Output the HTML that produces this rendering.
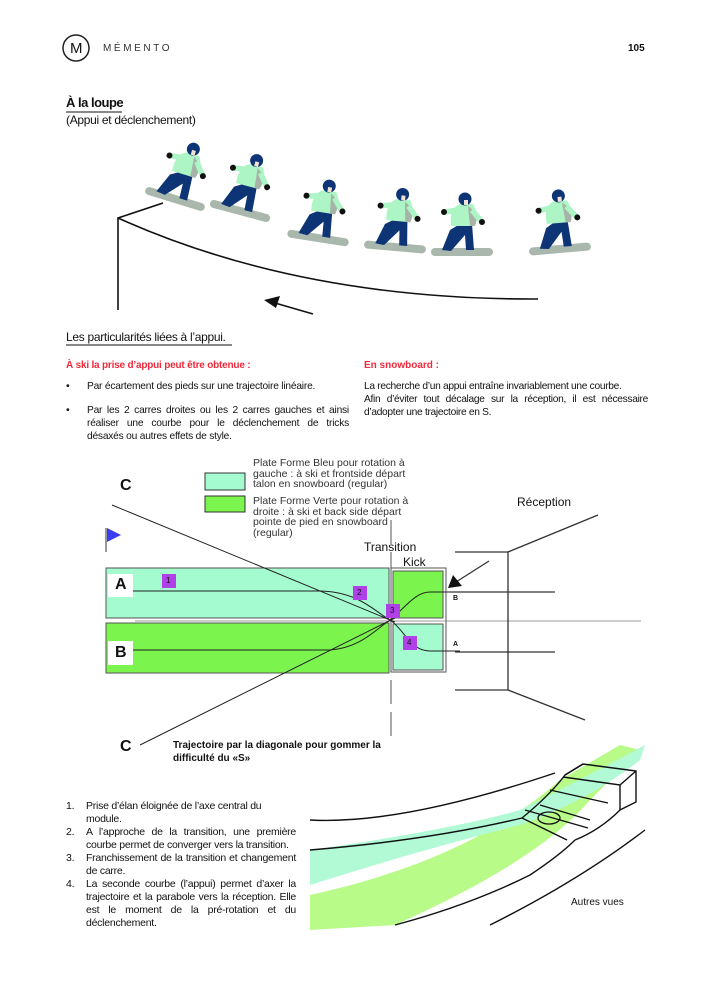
<!DOCTYPE html>
<html><head><meta charset="utf-8"><style>
body{margin:0;background:#fff;}
#p{position:relative;width:712px;height:1000px;overflow:hidden;font-family:"Liberation Sans",sans-serif;color:#111;}
.t{position:absolute;white-space:nowrap;}
.j{position:absolute;font-size:10.2px;line-height:13px;text-align:justify;letter-spacing:-0.2px;}
</style></head><body><div id="p">
<svg width="712" height="1000" style="position:absolute;left:0;top:0">
<defs>
<g id="fig">
<rect x="-31" y="-4" width="62" height="8" rx="4" fill="#a9b7ad"/>
<path d="M-20,-2 L-12,-22 L-2,-28 L10,-28 L12,-2 L4,-2 L3,-17 L-11,-1Z" fill="#0d3474"/>
<path d="M-11,-26 Q-13,-44 -2,-48 L11,-48 Q17,-38 13,-26Z" fill="#aef5c5"/>
<path d="M6,-46 Q18,-38 13,-26 L8,-26Z" fill="#a7b3a8"/>
<path d="M-4,-42 L-17,-40 M10,-42 L19,-31" stroke="#aef5c5" stroke-width="5.5" fill="none"/>
<circle cx="-18" cy="-40" r="3" fill="#111"/><circle cx="20" cy="-30" r="3" fill="#111"/>
<circle cx="3" cy="-53" r="6.5" fill="#0d3474"/>
<rect x="2" y="-52" width="4" height="5" fill="#f2e2d3"/>
</g>
</defs>
<circle cx="76" cy="48" r="13" fill="none" stroke="#222" stroke-width="1.5"/>
<line x1="66" y1="112" x2="122" y2="112" stroke="#111"/>
<line x1="66" y1="345" x2="232" y2="345" stroke="#111"/>
<use href="#fig" transform="translate(175,199) rotate(17)"/>
<use href="#fig" transform="translate(240,211) rotate(15)"/>
<use href="#fig" transform="translate(318,238) rotate(9)"/>
<use href="#fig" transform="translate(395,247) rotate(5)"/>
<use href="#fig" transform="translate(462,252)"/>
<use href="#fig" transform="translate(560,249) rotate(-5)"/>
<g stroke="#111" stroke-width="1.6" fill="none">
<path d="M118,310 L118,218 L163,203"/>
<path d="M118,218 Q300,300 538,299"/>
<line x1="313" y1="314" x2="275" y2="303"/>
</g>
<polygon points="264,300 280,296 276,308" fill="#111"/>
<rect x="205" y="473" width="40" height="17" fill="#a4fbd0" stroke="#333" stroke-width="1"/>
<rect x="205" y="496" width="40" height="16" fill="#7bf44e" stroke="#333" stroke-width="1"/>
<line x1="106" y1="528" x2="106" y2="552" stroke="#555" stroke-width="1.2"/>
<polygon points="107,528 121,535 107,542" fill="#3b3bf0"/>
<rect x="106" y="568" width="283" height="50" fill="#a4fbd0" stroke="#555"/>
<rect x="106" y="623" width="283" height="50" fill="#7bf44e" stroke="#555"/>
<rect x="108" y="574" width="25" height="23" fill="#fff"/>
<rect x="108" y="641" width="25" height="24" fill="#fff"/>
<rect x="391" y="568" width="55" height="104" fill="#fff" stroke="#555"/>
<rect x="393" y="571" width="50" height="47" fill="#7bf44e" stroke="#555"/>
<rect x="393" y="624" width="50" height="46" fill="#a4fbd0" stroke="#555"/>
<line x1="135" y1="621" x2="641" y2="621" stroke="#777" stroke-width="0.8"/>
<line x1="391" y1="520" x2="391" y2="738" stroke="#555" stroke-width="1" stroke-dasharray="24,8"/>
<g stroke="#222" stroke-width="1" fill="none">
<path d="M133,591 L320,591 C360,592 375,612 390,620 C405,630 410,651 430,651 L460,651"/>
<path d="M133,650 L330,650 C360,648 375,630 390,620 C405,608 415,592 430,592 L460,592"/>
<path d="M112,505 L395,622"/>
<path d="M140,745 L395,618"/>
</g>
<g stroke="#333" stroke-width="1.3" fill="none">
<path d="M455,552 L508,552 L508,690 L455,690"/>
<line x1="508" y1="552" x2="598" y2="515"/>
<line x1="508" y1="690" x2="585" y2="720"/>
<line x1="450" y1="592" x2="555" y2="592"/>
<line x1="455" y1="652" x2="555" y2="652"/>
<line x1="489" y1="561" x2="456" y2="582"/>
</g>
<polygon points="448,588 453,575 462,586" fill="#111"/>
<g fill="#b041e8"><rect x="162" y="574" width="14" height="14"/><rect x="353" y="586" width="14" height="14"/><rect x="386" y="604" width="14" height="14"/><rect x="403" y="636" width="14" height="14"/></g>
<path d="M310,895 Q470,860 560,780 L620,745 L640,750 L590,800 Q540,860 395,925 L310,930Z" fill="#b8fb88"/>
<path d="M310,850 Q450,830 520,810 Q580,780 645,745 L640,760 Q590,800 520,825 Q420,850 310,885Z" fill="#b2f9d6"/>
<g stroke="#111" stroke-width="1.4" fill="none">
<path d="M310,820 Q400,825 555,773"/>
<path d="M310,850 Q430,840 522,818 Q550,795 565,775 L583,764 L636,771 L636,802 L620,810 Q600,830 575,840"/>
<path d="M565,775 L583,764 M563,777 L620,785 L636,771 M620,785 L620,810"/>
<path d="M395,925 Q470,905 530,875 Q560,855 575,840"/>
<path d="M490,925 Q580,880 645,830"/>
<path d="M550,790 L608,803 M540,805 L590,820 M522,818 L567,840 M525,810 L588,828"/>
</g>
<ellipse cx="549" cy="818" rx="11" ry="6" fill="none" stroke="#111" stroke-width="1.3"/>
</svg>
<div class="t" style="left:70px;top:40px;font-size:15px">M</div>
<div class="t" style="left:103px;top:43px;font-size:10px;letter-spacing:2.6px;color:#333">MÉMENTO</div>
<div class="t" style="left:628px;top:43px;font-size:10px;font-weight:bold">105</div>
<div class="t" style="left:66px;top:95px;font-size:13px;font-weight:bold;letter-spacing:-0.5px">À la loupe</div>
<div class="t" style="left:66px;top:113px;font-size:12px;letter-spacing:-0.3px">(Appui et déclenchement)</div>
<div class="t" style="left:66px;top:330px;font-size:12px;letter-spacing:-0.3px">Les particularités liées à l’appui.</div>
<div class="t" style="left:66px;top:360px;font-size:10px;font-weight:bold;color:#ee2a3c;letter-spacing:-0.2px">À ski la prise d’appui peut être obtenue :</div>
<div class="t" style="left:364px;top:360px;font-size:10px;font-weight:bold;color:#ee2a3c">En snowboard :</div>
<div class="t" style="left:66px;top:380px;font-size:10.5px">•</div>
<div class="j" style="left:87px;top:380px;width:262px">Par écartement des pieds sur une trajectoire linéaire.</div>
<div class="t" style="left:66px;top:404px;font-size:10.5px">•</div>
<div class="j" style="left:87px;top:404px;width:262px">Par les 2 carres droites ou les 2 carres gauches et ainsi réaliser une courbe pour le déclenchement de tricks désaxés ou autres effets de style.</div>
<div class="j" style="left:364px;top:380px;width:284px;letter-spacing:-0.3px">La recherche d’un appui entraîne invariablement une courbe.<br>Afin d’éviter tout décalage sur la réception, il est nécessaire d’adopter une trajectoire en S.</div>
<div class="t" style="left:253px;top:458px;font-size:10.5px;line-height:10.7px;color:#333">Plate Forme Bleu pour rotation à<br>gauche : à ski et frontside départ<br>talon en snowboard (regular)</div>
<div class="t" style="left:253px;top:496px;font-size:10.5px;line-height:10.7px;color:#333">Plate Forme Verte pour rotation à<br>droite : à ski et back side départ<br>pointe de pied en snowboard<br>(regular)</div>
<div class="t" style="left:120px;top:477px;font-size:16px;font-weight:bold">C</div>
<div class="t" style="left:120px;top:738px;font-size:16px;font-weight:bold">C</div>
<div class="t" style="left:115px;top:576px;font-size:16px;font-weight:bold">A</div>
<div class="t" style="left:115px;top:644px;font-size:16px;font-weight:bold">B</div>
<div class="t" style="left:364px;top:540px;font-size:12px">Transition</div>
<div class="t" style="left:403px;top:555px;font-size:12px">Kick</div>
<div class="t" style="left:517px;top:495px;font-size:12px">Réception</div>
<div class="t" style="left:453px;top:595px;font-size:7px;font-weight:bold">B</div>
<div class="t" style="left:453px;top:641px;font-size:7px;font-weight:bold">A</div>
<div class="t" style="left:166px;top:576px;font-size:8px">1</div>
<div class="t" style="left:357px;top:588px;font-size:8px">2</div>
<div class="t" style="left:390px;top:606px;font-size:8px">3</div>
<div class="t" style="left:407px;top:638px;font-size:8px">4</div>
<div class="t" style="left:173px;top:740px;font-size:10px;font-weight:bold;line-height:12.5px">Trajectoire par la diagonale pour gommer la<br>difficulté du «S»</div>
<div class="t" style="left:571px;top:897px;font-size:10px">Autres vues</div>
<div style="position:absolute;left:66px;top:800px;width:230px;font-size:10.5px;line-height:13px;letter-spacing:-0.25px">
<div style="position:relative;padding-left:20px;text-align:justify"><span style="position:absolute;left:0">1.</span>Prise d’élan éloignée de l’axe central du<br>module.</div>
<div style="position:relative;padding-left:20px;text-align:justify"><span style="position:absolute;left:0">2.</span>A l’approche de la transition, une première courbe permet de converger vers la transition.</div>
<div style="position:relative;padding-left:20px;text-align:justify"><span style="position:absolute;left:0">3.</span>Franchissement de la transition et changement de carre.</div>
<div style="position:relative;padding-left:20px;text-align:justify"><span style="position:absolute;left:0">4.</span>La seconde courbe (l’appui) permet d’axer la trajectoire et la parabole vers la réception. Elle est le moment de la pré-rotation et du déclenchement.</div>
</div>
</div></body></html>
